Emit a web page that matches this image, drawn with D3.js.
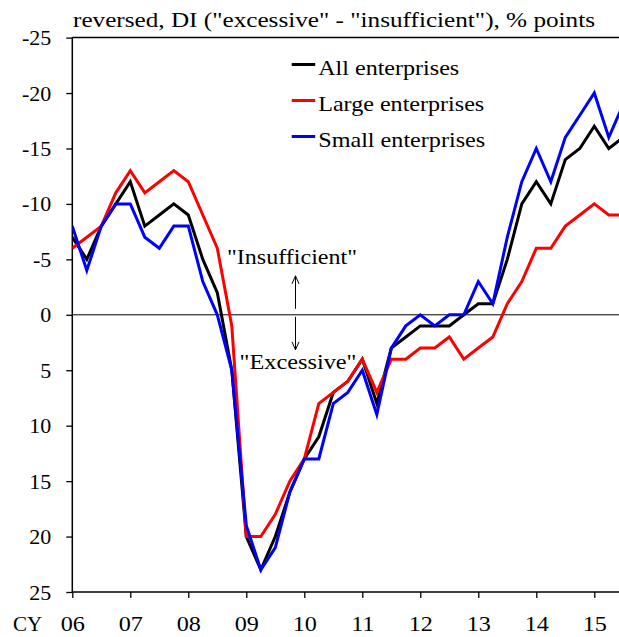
<!DOCTYPE html>
<html>
<head>
<meta charset="utf-8">
<script src="https://cdn.jsdelivr.net/npm/d3@7"></script>
<style>
	body { margin: 0; background: #fff; }
	svg { display: block; }
	svg text { font-family: "Liberation Serif", "Times New Roman", serif; fill: #000; }
</style>
</head>
<body>
<svg id="chart"></svg>
<script>
'use strict'

// quarterly, CY2006 Q1 .. CY2015 Q3 (last point is the forecast)
var allEnterprises = [-7, -5, -8, -10, -12, -8, -9, -10, -9, -5, -2, 5, 20, 23, 20, 16, 13, 11, 7, 6,
	4, 8, 3, 2, 1, 1, 1, 0, -1, -1, -5, -10, -12, -10, -14, -15, -17, -15, -16];
var largeEnterprises = [-6, -7, -8, -11, -13, -11, -12, -13, -12, -9, -6, 1, 20, 20, 18, 15, 13, 8, 7, 6,
	4, 7, 4, 4, 3, 3, 2, 4, 3, 2, -1, -3, -6, -6, -8, -9, -10, -9, -9];
var smallEnterprises = [-8, -4, -8, -10, -10, -7, -6, -8, -8, -3, 0, 5, 19, 23, 21, 16, 13, 13, 8, 7,
	5, 9, 3, 1, 0, 1, 0, 0, -3, -1, -7, -12, -15, -12, -16, -18, -20, -16, -19];

var yearLabels = ["06", "07", "08", "09", "10", "11", "12", "13", "14", "15"];
var yTicks = [-25, -20, -15, -10, -5, 0, 5, 10, 15, 20, 25];

var seriesNames = ["All enterprises", "Large enterprises", "Small enterprises"];
var seriesColors = ["#000000", "#ff0000", "#0000ff"];

var WIDTH = 619,
	HEIGHT = 637;

var FONT_SIZE = '22px';

var plot = {
	left: 72.3,
	top: 37.6,
	right: 619,
	bottom: 592
};

var svg = d3.select("#chart")
	.attr('width', WIDTH)
	.attr('height', HEIGHT);

svg.append('rect')
	.attr('width', WIDTH)
	.attr('height', HEIGHT)
	.style('fill', '#fff');

// widen a text by k, or to a fixed width
function stretch(sel, k, width) {
	sel.each(function () {
		var w = width || this.getComputedTextLength() * k;
		d3.select(this)
			.attr('textLength', w)
			.attr('lengthAdjust', 'spacingAndGlyphs');
	});
}

// index 0 = 06 Q1, one year = 4 quarters
var x = d3.scaleLinear()
	.domain([0, 36])
	.range([plot.left, 594.3]);

var y = d3.scaleLinear()
	.domain([-25, 25])
	.range([plot.top, plot.bottom]);

svg.append('defs')
	.append('clipPath')
	.attr('id', 'plot-clip')
	.append('rect')
	.attr('x', plot.left)
	.attr('y', plot.top - 5)
	.attr('width', plot.right - plot.left)
	.attr('height', plot.bottom - plot.top + 10);

// y axis (plain hyphen for the minus, like the original)
var yAxis = svg.append('g')
	.attr('transform', 'translate(' + plot.left + ',0)')
	.call(d3.axisLeft(y)
		.tickValues(yTicks)
		.tickFormat(function (d) { return String(d); })
		.tickSize(6)
		.tickPadding(15));

// x axis, ticks at the start of every year
var xAxis = svg.append('g')
	.attr('transform', 'translate(0,' + plot.bottom + ')')
	.call(d3.axisBottom(x)
		.tickValues(yearLabels.map(function (d, i) { return i * 4; }))
		.tickFormat(function (d) { return yearLabels[d / 4]; })
		.tickSize(6)
		.tickSizeOuter(0)
		.tickPadding(17));

svg.selectAll('.domain').remove();
yAxis.attr('font-family', null).attr('font-size', null);
xAxis.attr('font-family', null).attr('font-size', null);

svg.selectAll('.tick line')
	.style('stroke', '#000')
	.style('stroke-width', 1.3);

svg.selectAll('.tick text')
	.style('font-size', FONT_SIZE)
	.style('fill', '#000');

yAxis.selectAll('.tick text').attr('dy', '0.32em');
xAxis.selectAll('.tick text').attr('dy', '0.71em');
stretch(xAxis.selectAll('.tick text'), 1.1);

svg.append('text')
	.attr('x', 13)
	.attr('y', 631)
	.style('font-size', '21px')
	.text('CY');

// frame: left, bottom, top
svg.append('line')
	.attr('x1', plot.left).attr('x2', plot.left)
	.attr('y1', plot.top).attr('y2', plot.bottom)
	.style('stroke', '#000').style('stroke-width', 1.5);

svg.append('line')
	.attr('x1', plot.left).attr('x2', plot.right)
	.attr('y1', plot.bottom).attr('y2', plot.bottom)
	.style('stroke', '#000').style('stroke-width', 1.5);

svg.append('line')
	.attr('x1', plot.left).attr('x2', plot.right)
	.attr('y1', plot.top).attr('y2', plot.top)
	.style('stroke', '#000').style('stroke-width', 1.5);

// zero line
svg.append('line')
	.attr('x1', plot.left).attr('x2', plot.right)
	.attr('y1', y(0)).attr('y2', y(0))
	.style('stroke', '#000').style('stroke-width', 1);

svg.append('text')
	.attr('x', 73)
	.attr('y', 27)
	.style('font-size', FONT_SIZE)
	.text('reversed, DI ("excessive" - "insufficient"), % points')
	.call(stretch, 1, 522);

// annotations
var arrowX = 295.5;

svg.append('text')
	.attr('x', 292)
	.attr('y', 264)
	.attr('text-anchor', 'middle')
	.style('font-size', FONT_SIZE)
	.text('"Insufficient"')
	.call(stretch, 1, 130);

svg.append('text')
	.attr('x', 298)
	.attr('y', 369)
	.attr('text-anchor', 'middle')
	.style('font-size', FONT_SIZE)
	.text('"Excessive"')
	.call(stretch, 1, 117);

var arrows = [
	{ from: y(0) - 6, to: y(0) - 39 },
	{ from: y(0) + 2, to: y(0) + 35 }
];

arrows.forEach(function (a) {
	var dir = a.to < a.from ? 1 : -1;
	svg.append('path')
		.attr('d', 'M' + arrowX + ',' + a.from + 'V' + a.to +
			'M' + (arrowX - 3.5) + ',' + (a.to + dir * 8) + 'L' + arrowX + ',' + a.to +
			'L' + (arrowX + 3.5) + ',' + (a.to + dir * 8))
		.style('fill', 'none')
		.style('stroke', '#000')
		.style('stroke-width', 1);
});

// series lines
var line = d3.line()
	.x(function (d, i) { return x(i); })
	.y(function (d) { return y(d); });

var series = [allEnterprises, largeEnterprises, smallEnterprises];

svg.append('g')
	.attr('clip-path', 'url(#plot-clip)')
	.selectAll('.series')
	.data(series)
	.enter()
	.append('path')
	.attr('class', 'series')
	.attr('d', line)
	.style('fill', 'none')
	.style('stroke', function (d, i) { return seriesColors[i]; })
	.style('stroke-width', 3)
	.style('stroke-linejoin', 'miter');

// legend
var legendWidths = [141, 166, 167];

var legend = svg.append('g')
	.attr('transform', 'translate(291.7,64.5)');

var items = legend.selectAll('.legend-item')
	.data(seriesNames)
	.enter()
	.append('g')
	.attr('class', 'legend-item')
	.attr('transform', function (d, i) { return 'translate(0,' + (i * 36) + ')'; });

items.append('line')
	.attr('x1', 0).attr('x2', 23.5)
	.attr('y1', 0).attr('y2', 0)
	.style('stroke', function (d, i) { return seriesColors[i]; })
	.style('stroke-width', 3);

items.append('text')
	.attr('x', 26.5)
	.attr('y', 10.5)
	.style('font-size', FONT_SIZE)
	.text(function (d) { return d; })
	.each(function (d, i) {
		d3.select(this).call(stretch, 1, legendWidths[i]);
	});
</script>
</body>
</html>
